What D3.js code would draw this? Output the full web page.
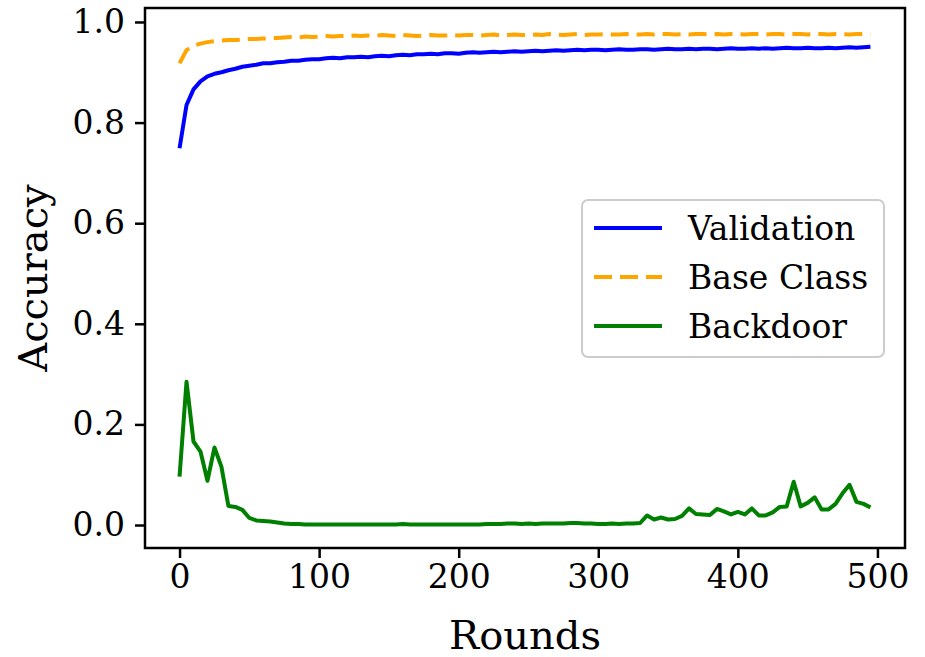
<!DOCTYPE html>
<html>
<head>
<meta charset="utf-8">
<script src="https://cdn.jsdelivr.net/npm/d3@7"></script>
<style>
  body { margin: 0; background: #fff; }
  svg text { font-family: "DejaVu Serif", serif; fill: #000; }
</style>
</head>
<body>
<div id="chart"></div>
<script>
// rounds, sampled every 5
const rounds = d3.range(0, 500, 5);

const validation = [
  0.749, 0.835, 0.866, 0.882, 0.892, 0.897, 0.900, 0.904, 0.907, 0.911,
  0.913, 0.915, 0.918, 0.918, 0.920, 0.921, 0.923, 0.923, 0.925, 0.926,
  0.926, 0.928, 0.929, 0.928, 0.930, 0.930, 0.931, 0.930, 0.932, 0.933,
  0.932, 0.934, 0.935, 0.934, 0.936, 0.936, 0.937, 0.936, 0.938, 0.938,
  0.937, 0.939, 0.940, 0.939, 0.940, 0.941, 0.940, 0.941, 0.942, 0.941,
  0.942, 0.943, 0.942, 0.943, 0.944, 0.943, 0.944, 0.945, 0.944, 0.945,
  0.945, 0.944, 0.945, 0.946, 0.945, 0.945, 0.946, 0.946, 0.945, 0.946,
  0.947, 0.946, 0.946, 0.947, 0.946, 0.947, 0.947, 0.946, 0.947, 0.948,
  0.947, 0.947, 0.948, 0.947, 0.948, 0.947, 0.948, 0.949, 0.948, 0.948,
  0.949, 0.948, 0.948, 0.949, 0.948, 0.949, 0.950, 0.949, 0.950, 0.951
];

const baseClass = [
  0.918, 0.944, 0.953, 0.957, 0.960, 0.962, 0.963, 0.964, 0.964, 0.965,
  0.966, 0.966, 0.967, 0.968, 0.968, 0.969, 0.970, 0.969, 0.971, 0.970,
  0.971, 0.972, 0.971, 0.972, 0.972, 0.973, 0.972, 0.973, 0.973, 0.974,
  0.973, 0.972, 0.974, 0.973, 0.972, 0.973, 0.974, 0.973, 0.973, 0.974,
  0.973, 0.974, 0.974, 0.973, 0.974, 0.975, 0.973, 0.974, 0.975, 0.974,
  0.974, 0.975, 0.974, 0.976, 0.975, 0.974, 0.975, 0.976, 0.974, 0.975,
  0.975, 0.976, 0.975, 0.975, 0.976, 0.975, 0.975, 0.976, 0.975, 0.976,
  0.976, 0.975, 0.976, 0.975, 0.976, 0.976, 0.975, 0.976, 0.975, 0.976,
  0.976, 0.975, 0.976, 0.976, 0.975, 0.976, 0.976, 0.975, 0.976, 0.976,
  0.975, 0.976, 0.976, 0.975, 0.976, 0.976, 0.975, 0.976, 0.976, 0.976
];

const backdoor = [
  0.096, 0.285, 0.166, 0.146, 0.088, 0.154, 0.116, 0.038, 0.036, 0.030,
  0.014, 0.009, 0.008, 0.007, 0.005, 0.003, 0.002, 0.002, 0.001, 0.001,
  0.001, 0.001, 0.001, 0.001, 0.001, 0.001, 0.001, 0.001, 0.001, 0.001,
  0.001, 0.001, 0.002, 0.001, 0.001, 0.001, 0.001, 0.001, 0.001, 0.001,
  0.001, 0.001, 0.001, 0.001, 0.002, 0.002, 0.002, 0.003, 0.003, 0.002,
  0.003, 0.002, 0.003, 0.003, 0.003, 0.003, 0.004, 0.004, 0.003, 0.003,
  0.002, 0.002, 0.003, 0.002, 0.003, 0.003, 0.004, 0.019, 0.011, 0.015,
  0.011, 0.012, 0.018, 0.033, 0.022, 0.021, 0.020, 0.032, 0.027, 0.021,
  0.026, 0.021, 0.033, 0.019, 0.019, 0.025, 0.036, 0.037, 0.086, 0.037,
  0.044, 0.055, 0.031, 0.031, 0.042, 0.063, 0.080, 0.046, 0.042, 0.035
];

const seriesNames = ["Validation", "Base Class", "Backdoor"];
const seriesColors = ["#0000ff", "#ffa500", "#008000"];
const seriesDash = [null, "18,8", null];
const xTicks = [0, 100, 200, 300, 400, 500];
const yTicks = [0.0, 0.2, 0.4, 0.6, 0.8, 1.0];

const width = 925, height = 657;
const m = { left: 145, right: 905, top: 8, bottom: 548 };

const svg = d3.select("#chart").append("svg")
  .attr("width", width).attr("height", height);

const x = d3.scaleLinear().domain([-24.75, 519.75]).range([m.left, m.right]);
const y = d3.scaleLinear().domain([-0.0457, 1.0278]).range([m.bottom, m.top]);

// lines
const all = [validation, baseClass, backdoor];
const line = d3.line().x((d, i) => x(rounds[i])).y(d => y(d));

svg.append("g").selectAll("path")
  .data(all)
  .join("path")
  .attr("d", d => line(d))
  .attr("fill", "none")
  .attr("stroke", (d, i) => seriesColors[i])
  .attr("stroke-width", 4)
  .attr("stroke-dasharray", (d, i) => seriesDash[i])
  .attr("stroke-linejoin", "round");

// axes
const xAxis = svg.append("g")
  .attr("transform", `translate(0,${m.bottom})`)
  .call(d3.axisBottom(x).tickValues(xTicks).tickSize(10).tickPadding(7).tickFormat(d3.format("d")));

const yAxis = svg.append("g")
  .attr("transform", `translate(${m.left},0)`)
  .call(d3.axisLeft(y).tickValues(yTicks).tickSize(10).tickPadding(10).tickFormat(d3.format(".1f")));

[xAxis, yAxis].forEach(a => {
  a.select(".domain").remove();
  a.selectAll(".tick line").attr("stroke", "#000").attr("stroke-width", 2.5);
  a.selectAll(".tick text").style("font-size", "33px");
});

// frame
svg.append("rect")
  .attr("x", m.left).attr("y", m.top)
  .attr("width", m.right - m.left).attr("height", m.bottom - m.top)
  .attr("fill", "none").attr("stroke", "#000").attr("stroke-width", 2.5);

// axis labels
svg.append("text")
  .attr("x", (m.left + m.right) / 2).attr("y", 649)
  .attr("text-anchor", "middle")
  .style("font-size", "40px")
  .text("Rounds");

svg.append("text")
  .attr("transform", `translate(47,${(m.top + m.bottom) / 2}) rotate(-90)`)
  .attr("text-anchor", "middle")
  .style("font-size", "40px")
  .text("Accuracy");

// legend
const lg = svg.append("g").attr("transform", "translate(582,200)");
lg.append("rect")
  .attr("width", 302).attr("height", 157).attr("rx", 6)
  .attr("fill", "#fff").attr("stroke", "#ccc").attr("stroke-width", 2);

const items = lg.selectAll("g.item")
  .data(seriesNames)
  .join("g")
  .attr("transform", (d, i) => `translate(0,${28 + i * 49})`);

items.append("line")
  .attr("x1", 12).attr("x2", 80)
  .attr("stroke", (d, i) => seriesColors[i])
  .attr("stroke-width", 4)
  .attr("stroke-dasharray", (d, i) => seriesDash[i]);

items.append("text")
  .attr("x", 106).attr("dy", "0.35em")
  .style("font-size", "33px")
  .text(d => d);
</script>
</body>
</html>
